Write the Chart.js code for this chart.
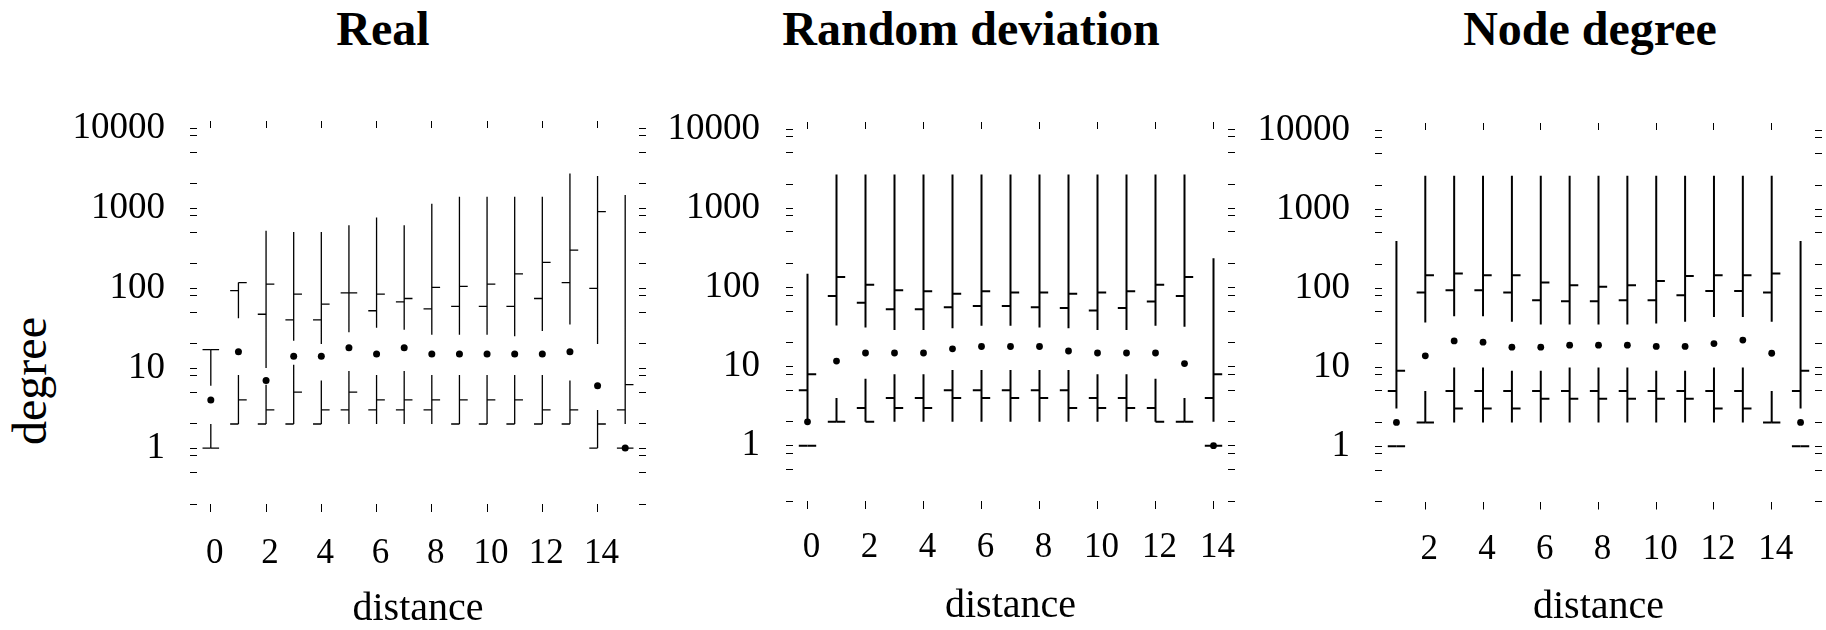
<!DOCTYPE html>
<html>
<head>
<meta charset="utf-8">
<title>Degree by distance</title>
<script src="https://cdn.jsdelivr.net/npm/chart.js@4.4.1/dist/chart.umd.min.js"></script>
<style>
    body {
        margin: 0;
        background: #fff;
        font-family: "Liberation Serif", "Times New Roman", serif;
    }
    .wrap {
        position: relative;
        width: 1826px;
        height: 630px;
    }
    .panel {
        position: absolute;
        top: 0;
        height: 630px;
    }
    .ttl {
        position: absolute;
        top: 5px;
        width: 500px;
        text-align: center;
        font-weight: bold;
        font-size: 48px;
        line-height: 48px;
    }
    .ylab {
        position: absolute;
        left: 30px;
        top: 381px;
        font-size: 48px;
        line-height: 48px;
        transform: translate(-50%, -50%) rotate(-90deg);
    }
</style>
</head>
<body>
<div class="wrap">
    <div class="ttl" style="left:133px">Real</div>
    <div class="ttl" style="left:721px">Random deviation</div>
    <div class="ttl" style="left:1340px">Node degree</div>
    <div class="ylab">degree</div>
    <div class="panel" style="left:0;width:660px"><canvas id="real"></canvas></div>
    <div class="panel" style="left:660px;width:590px"><canvas id="rand"></canvas></div>
    <div class="panel" style="left:1250px;width:576px"><canvas id="node"></canvas></div>
</div>
<script>
    // y axis (log) ticks, labels only on the decades
    const yTicks = [0.2, 0.5, 0.8, 1, 2, 5, 8, 10, 20, 50, 80, 100, 200, 500, 800, 1000, 2000, 5000, 8000, 10000];
    const yLabels = [1, 10, 100, 1000, 10000];

    // Real
    const realDist = [0, 1, 2, 3, 4, 5, 6, 7, 8, 9, 10, 11, 12, 13, 14, 15];
    const realMin = [1, 2, 2, 2, 2, 2, 2, 2, 2, 2, 2, 2, 2, 2, 1, 1];
    const realLowTop = [2, 8.2, 6.2, 11, 7, 9.2, 8.2, 9.2, 8.2, 8.2, 8.2, 8.2, 8.2, 7, 3, 1];
    const realMedian = [4, 16, 7, 14, 14, 18, 15, 18, 15, 15, 15, 15, 15, 16, 6, 1];
    const realHighBot = [6, 42, 10, 22, 20, 28, 32, 30, 26, 26, 26, 25, 29, 35, 20, 2];
    const realMax = [17, 117, 520, 500, 500, 610, 760, 610, 1130, 1380, 1380, 1380, 1380, 2700, 2520, 1450];
    const realLeftLo = [1, 2, 2, 2, 2, 3, 3, 3, 3, 2, 2, 2, 2, 2, 1, 1];
    const realLeftHi = [17, 93, 47, 40, 40, 87, 52, 67, 55, 59, 59, 59, 74, 117, 99, 3];
    const realRightLo = [1, 4, 3, 5, 3, 5, 4, 4, 4, 4, 4, 4, 3, 3, 2, 1];
    const realRightHi = [17, 117, 112, 84, 63, 87, 84, 74, 102, 105, 112, 150, 209, 298, 900, 6.2];

    // Random deviation
    const randDist = [0, 1, 2, 3, 4, 5, 6, 7, 8, 9, 10, 11, 12, 13, 14];
    const randMin = [1, 2, 2, 2, 2, 2, 2, 2, 2, 2, 2, 2, 2, 2, 1];
    const randLowTop = [1, 4, 7, 8, 8, 9, 9, 9, 9, 9, 8, 8, 7, 4, 1];
    const randMedian = [2, 11.7, 14.8, 14.8, 14.8, 16.7, 17.9, 17.9, 17.9, 15.7, 14.8, 14.8, 14.8, 10.9, 1];
    const randHighBot = [2, 33, 31, 29, 29, 30.5, 32.6, 32.6, 31, 30.5, 29, 29, 32.6, 31.7, 2];
    const randMax = [148, 2660, 2660, 2660, 2660, 2660, 2660, 2660, 2660, 2660, 2660, 2660, 2660, 2660, 233];
    const randLeftLo = [1, 2, 3, 4, 4, 5, 5, 5, 5, 5, 4, 4, 3, 2, 1];
    const randLeftHi = [5, 78, 64, 53, 53, 56, 58, 58, 56, 55, 51, 55, 66, 78, 4];
    const randRightLo = [1, 2, 2, 3, 3, 4, 4, 4, 4, 3, 3, 3, 2, 2, 1];
    const randRightHi = [8, 135, 108, 92, 89, 83, 89, 86, 86, 83, 86, 89, 108, 135, 8];

    // Node degree
    const nodeDist = [1, 2, 3, 4, 5, 6, 7, 8, 9, 10, 11, 12, 13, 14, 15];
    const nodeMin = [1, 2, 2, 2, 2, 2, 2, 2, 2, 2, 2, 2, 2, 2, 1];
    const nodeLowTop = [1, 5, 9.9, 9.9, 9, 9, 9.9, 9.9, 9.9, 9, 9, 9.9, 9.9, 5, 1];
    const nodeMedian = [2, 13.9, 21.5, 20.7, 17.9, 17.9, 19, 19, 19, 18.3, 18.3, 19.9, 22, 15, 2];
    const nodeHighBot = [3, 36.7, 44, 44, 37.5, 34.7, 34.7, 34.7, 34.7, 35.7, 37.5, 43, 43, 37.5, 3];
    const nodeMax = [394, 2640, 2640, 2640, 2640, 2640, 2640, 2640, 2640, 2640, 2640, 2640, 2640, 2640, 394];
    const nodeLeftLo = [1, 2, 5, 5, 5, 5, 5, 5, 5, 5, 5, 5, 5, 2, 1];
    const nodeLeftHi = [5, 88, 94, 94, 88, 70, 68, 68, 70, 70, 81, 92, 92, 88, 5];
    const nodeRightLo = [1, 2, 3, 3, 3, 4, 4, 4, 4, 4, 4, 3, 3, 2, 1];
    const nodeRightHi = [9, 146, 153, 146, 146, 118, 109, 104, 109, 123, 142, 146, 146, 153, 9];

    const evenTicks = [0, 2, 4, 6, 8, 10, 12, 14];
    const evenTicksNo0 = [2, 4, 6, 8, 10, 12, 14];

    Chart.defaults.font.family = "'Liberation Serif', 'Times New Roman', serif";
    Chart.defaults.color = '#000';

    const TICK_W = 0.3;

    // vertical pieces: one segment per distance, broken by nulls
    function vSegs(xs, lo, hi) {
        const d = [];
        xs.forEach((x, i) => d.push({x: x, y: lo[i]}, {x: x, y: hi[i]}, {x: x, y: null}));
        return d;
    }
    // small horizontal ticks to the left (side -1) or right (side 1)
    function hTicks(xs, vals, side) {
        const d = [];
        xs.forEach((x, i) => d.push({x: x, y: vals[i]}, {x: x + side * TICK_W, y: vals[i]}, {x: x, y: null}));
        return d;
    }

    function makePanel(id, p) {
        const line = (data) => ({
            data: data, showLine: true, spanGaps: false, pointRadius: 0,
            borderColor: '#000', borderWidth: p.lw, borderCapStyle: 'butt'
        });
        const tickGrid = (len) => ({drawOnChartArea: false, drawTicks: true, tickLength: len, color: '#000', lineWidth: 1});
        const setX = (s) => { s.ticks = p.xTicks.map(v => ({value: v})); };
        const setY = (s) => { s.ticks = yTicks.map(v => ({value: v})); };

        new Chart(document.getElementById(id), {
            type: 'scatter',
            data: {
                datasets: [
                    line(vSegs(p.dist, p.min, p.lowTop)),
                    line(vSegs(p.dist, p.highBot, p.max)),
                    line(hTicks(p.dist, p.leftLo, -1)),
                    line(hTicks(p.dist, p.leftHi, -1)),
                    line(hTicks(p.dist, p.rightLo, 1)),
                    line(hTicks(p.dist, p.rightHi, 1)),
                    {
                        data: p.dist.map((x, i) => ({x: x, y: p.median[i]})),
                        pointRadius: p.dotR, pointBackgroundColor: '#000', pointBorderWidth: 0
                    }
                ]
            },
            options: {
                responsive: true,
                maintainAspectRatio: false,
                animation: false,
                layout: {padding: {left: 0, right: p.width - p.plotR - 7, top: p.plotT - 7, bottom: 0}},
                plugins: {legend: {display: false}, tooltip: {enabled: false}},
                scales: {
                    x: {
                        type: 'linear', position: 'bottom', min: p.xMin, max: p.xMax,
                        afterBuildTicks: setX,
                        afterFit: (s) => { s.height = 630 - p.plotB; },
                        ticks: {font: {size: 35}, padding: p.labelPad, labelOffset: 4, maxRotation: 0, autoSkip: false},
                        grid: tickGrid(8),
                        border: {display: false},
                        title: {display: true, text: 'distance', font: {size: 40, lineHeight: 1.05}, padding: {top: 0, bottom: p.titlePad}}
                    },
                    x2: {
                        type: 'linear', position: 'top', min: p.xMin, max: p.xMax,
                        afterBuildTicks: setX,
                        afterFit: (s) => { s.height = 7; },
                        ticks: {display: false},
                        grid: tickGrid(7),
                        border: {display: false}
                    },
                    y: {
                        type: 'logarithmic', position: 'left', min: 0.2, max: 10000,
                        afterBuildTicks: setY,
                        afterFit: (s) => { s.width = p.plotL; },
                        ticks: {
                            font: {size: 37}, padding: p.yPad, autoSkip: false,
                            callback: (v) => yLabels.includes(v) ? String(v) : ''
                        },
                        grid: tickGrid(7),
                        border: {display: false}
                    },
                    y2: {
                        type: 'logarithmic', position: 'right', min: 0.2, max: 10000,
                        afterBuildTicks: setY,
                        afterFit: (s) => { s.width = 7; },
                        ticks: {display: false},
                        grid: tickGrid(7),
                        border: {display: false}
                    }
                }
            }
        });
    }

    makePanel('real', {
        dist: realDist, min: realMin, lowTop: realLowTop, median: realMedian, highBot: realHighBot, max: realMax,
        leftLo: realLeftLo, leftHi: realLeftHi, rightLo: realRightLo, rightHi: realRightHi,
        xMin: -0.5, xMax: 15.5, xTicks: evenTicks,
        width: 660, plotL: 197, plotR: 639, plotT: 128, plotB: 504,
        lw: 1.3, dotR: 3.5, labelPad: 21, titlePad: 0, yPad: 25
    });
    makePanel('rand', {
        dist: randDist, min: randMin, lowTop: randLowTop, median: randMedian, highBot: randHighBot, max: randMax,
        leftLo: randLeftLo, leftHi: randLeftHi, rightLo: randRightLo, rightHi: randRightHi,
        xMin: -0.5, xMax: 14.5, xTicks: evenTicks,
        width: 590, plotL: 133, plotR: 568, plotT: 129, plotB: 501,
        lw: 2, dotR: 3.4, labelPad: 18, titlePad: 3, yPad: 26
    });
    makePanel('node', {
        dist: nodeDist, min: nodeMin, lowTop: nodeLowTop, median: nodeMedian, highBot: nodeHighBot, max: nodeMax,
        leftLo: nodeLeftLo, leftHi: nodeLeftHi, rightLo: nodeRightLo, rightHi: nodeRightHi,
        xMin: 0.5, xMax: 15.5, xTicks: evenTicksNo0,
        width: 576, plotL: 132, plotR: 565, plotT: 130, plotB: 501.5,
        lw: 2, dotR: 3.4, labelPad: 19, titlePad: 2, yPad: 25
    });
</script>
</body>
</html>
